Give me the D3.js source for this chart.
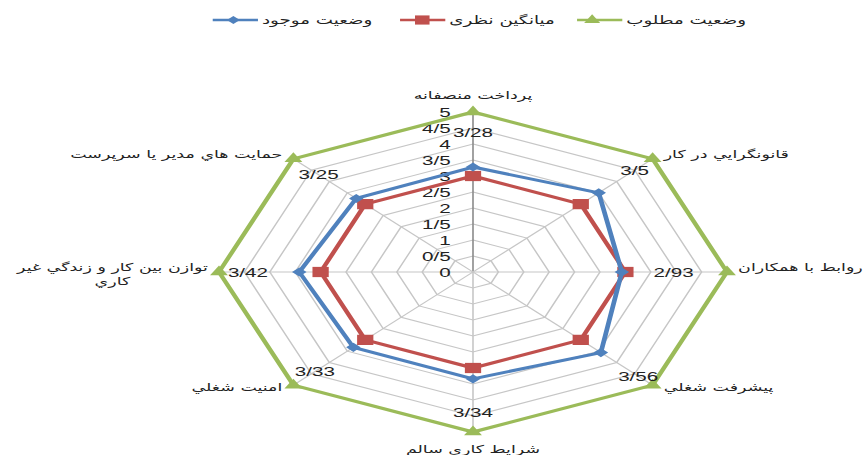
<!DOCTYPE html>
<html>
<head>
<meta charset="utf-8">
<script src="https://cdn.jsdelivr.net/npm/d3@7"></script>
<style>
  body { margin: 0; background: #fff; }
  svg { display: block; }
</style>
</head>
<body>
<svg id="chart" width="867" height="455"></svg>
<script>
// axes, clockwise from the top (multi-line names are split)
const categories = [
    ['پرداخت منصفانه'],
    ['قانونگرايي در كار'],
    ['روابط با همكاران'],
    ['پيشرفت شغلي'],
    ['شرايط كاري سالم'],
    ['امنيت شغلي'],
    ['توازن بين كار و زندگي غير', 'كاري'],
    ['حمايت هاي مدير يا سرپرست']
];
const currentState = [3.28, 3.5, 2.93, 3.56, 3.34, 3.33, 3.42, 3.25];
const theoreticalMean = [3, 3, 3, 3, 3, 3, 3, 3];
const desiredState = [5, 5, 5, 5, 5, 5, 5, 5];
const seriesNames = ['وضعیت موجود', 'میانگین نظری', 'وضعیت مطلوب'];
const tickValues = [0, 0.5, 1, 1.5, 2, 2.5, 3, 3.5, 4, 4.5, 5];
const tickLabels = ['0', '0/5', '1', '1/5', '2', '2/5', '3', '3/5', '4', '4/5', '5'];

// the original picture is stretched sideways, so everything is drawn in a
// square frame and widened by sx
const sx = 254 / 160;
const cx = 473 / sx;
const cy = 272;
const R = 160;
const faFont = 'DejaVu Sans';
const numFont = 'Liberation Sans';

const svg = d3.select('#chart');
const g = svg.append('g').attr('transform', `scale(${sx},1)`);

const r = d3.scaleLinear().domain([0, 5]).range([0, R]);
const angle = d3.scaleLinear().domain([0, categories.length]).range([0, 2 * Math.PI]);
const pt = (i, v) => [cx + r(v) * Math.sin(angle(i)), cy - r(v) * Math.cos(angle(i))];
const ring = d3.line().curve(d3.curveLinearClosed);

// grid rings
g.append('g').selectAll('path')
    .data(tickValues.filter(d => d > 0))
    .join('path')
    .attr('d', v => ring(categories.map((c, i) => pt(i, v))))
    .attr('fill', 'none')
    .attr('stroke', '#c6c6c6')
    .attr('stroke-width', 1);

// spokes
g.append('g').selectAll('line')
    .data(categories.map((c, i) => i))
    .join('line')
    .attr('x1', cx).attr('y1', cy)
    .attr('x2', i => pt(i, 5)[0])
    .attr('y2', i => pt(i, 5)[1])
    .attr('stroke', i => (i === 0 ? '#8a8a8a' : '#c6c6c6'))
    .attr('stroke-width', 1);

// value axis labels
g.append('g').selectAll('text')
    .data(tickValues)
    .join('text')
    .attr('x', cx - 14)
    .attr('y', v => cy - r(v))
    .attr('dy', '0.36em')
    .attr('text-anchor', 'end')
    .attr('font-family', numFont)
    .attr('font-size', 13)
    .attr('fill', '#222')
    .text((v, i) => tickLabels[i]);

const series = [
    { name: seriesNames[2], values: desiredState, color: '#9bbb59', symbol: d3.symbolTriangle, size: 55, rot: 0 },
    { name: seriesNames[1], values: theoreticalMean, color: '#c0504d', symbol: d3.symbolSquare, size: 105, rot: 0 },
    { name: seriesNames[0], values: currentState, color: '#4f81bd', symbol: d3.symbolSquare, size: 42, rot: 45 }
];

series.forEach((s) => {
    const pts = s.values.map((v, i) => pt(i, v));
    g.append('path')
        .attr('d', ring(pts))
        .attr('fill', 'none')
        .attr('stroke', s.color)
        .attr('stroke-width', 3)
        .attr('stroke-linejoin', 'round');
    g.append('g').selectAll('path')
        .data(pts)
        .join('path')
        .attr('transform', d => `translate(${d[0]},${d[1]}) rotate(${s.rot})`)
        .attr('d', d3.symbol(s.symbol, s.size))
        .attr('fill', s.color);
});

// data labels of the current state
const labelRadius = [4.35, 4.5, 3.95, 4.6, 4.37, 4.4, 4.43, 4.3];
g.append('g').selectAll('text')
    .data(currentState)
    .join('text')
    .attr('x', (v, i) => pt(i, labelRadius[i])[0])
    .attr('y', (v, i) => pt(i, labelRadius[i])[1])
    .attr('dy', '0.36em')
    .attr('text-anchor', 'middle')
    .attr('font-family', numFont)
    .attr('font-size', 13)
    .attr('fill', '#222')
    .text(v => String(v).replace('.', '/'));

// category names
categories.forEach((lines, i) => {
    const a = angle(i);
    const s = Math.sin(a);
    const c = Math.cos(a);
    const [px, py] = pt(i, 5);
    const side = Math.abs(s) < 0.1 ? 0 : Math.sign(s);
    const x = px + side * 7;
    const y = py - (side === 0 ? 17 * c : (c > 0 ? 5 : -2));
    const t = g.append('text')
        .attr('font-family', faFont)
        .attr('font-size', 11)
        .attr('fill', '#222')
        .attr('text-anchor', side === 0 ? 'middle' : (side > 0 ? 'start' : 'end'));
    if (lines.length === 1) {
        t.attr('x', x).attr('y', y).attr('dy', '0.36em').text(lines[0]);
    } else {
        const first = t.append('tspan').attr('x', x).attr('y', y - 7).attr('dy', '0.36em').text(lines[0]);
        const w = first.node().getComputedTextLength();
        const mid = x - w / 2;
        t.attr('text-anchor', 'middle');
        first.attr('x', mid);
        t.append('tspan').attr('x', mid).attr('y', y + 7).attr('dy', '0.36em').text(lines[1]);
    }
});

// legend
const legendX = [134, 252, 363.5];
const legendOrder = [series[2], series[1], series[0]];
const legend = g.append('g');
legendOrder.forEach((s, k) => {
    const x0 = legendX[k];
    const item = legend.append('g').attr('transform', `translate(${x0},20)`);
    item.append('line')
        .attr('x1', 0).attr('x2', 28.5)
        .attr('stroke', s.color)
        .attr('stroke-width', 2.5);
    item.append('path')
        .attr('transform', `translate(${k === 0 ? 13 : (k === 1 ? 14 : 9.5)},0) rotate(${s.rot})`)
        .attr('d', d3.symbol(s.symbol, s.size * 0.8))
        .attr('fill', s.color);
    item.append('text')
        .attr('x', 31)
        .attr('dy', '0.36em')
        .attr('font-family', faFont)
        .attr('font-size', 11.5)
        .attr('fill', '#222')
        .text(s.name);
});
</script>
</body>
</html>
